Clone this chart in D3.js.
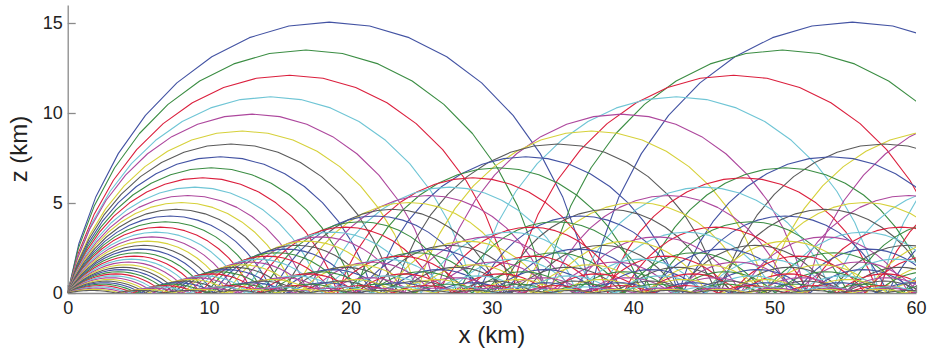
<!DOCTYPE html>
<html>
<head>
<meta charset="utf-8">
<script src="https://cdn.jsdelivr.net/npm/d3@7"></script>
<style>
  body { margin: 0; background: #fff; }
  svg { display: block; }
  .axis text { font-family: "Liberation Sans", Arial, Helvetica, sans-serif; font-size: 18px; fill: #222; }
  .axis path, .axis line { stroke: #8a8a8a; stroke-width: 1.3; }
  .title { font-family: "Liberation Sans", Arial, Helvetica, sans-serif; font-size: 24px; fill: #222; }
</style>
</head>
<body>
<svg id="chart" width="939" height="356"></svg>
<script>
// apex height (km) of each ray
const apexHeights = [
  15.05, 13.5, 12.1, 10.9, 9.94, 9.0, 8.28,
  7.57, 6.96, 6.4, 5.88, 5.42, 5.03, 4.65,
  4.28, 3.96, 3.66, 3.38, 3.12, 2.88, 2.65,
  2.44, 2.24, 2.05, 1.88, 1.72, 1.57, 1.43,
  1.30, 1.18, 1.06, 0.95, 0.85, 0.75, 0.66,
  0.57, 0.49, 0.41, 0.34, 0.27, 0.2, 0.14
];
// horizontal distance (km) between two bounces of each ray
const rayRanges = [
  37.0, 33.7, 31.4, 28.7, 26.1, 24.7, 23.1,
  21.6, 20.3, 19.1, 18.0, 17.0, 16.1, 15.3,
  14.5, 13.8, 13.1, 12.5, 11.9, 11.3, 10.8,
  10.3, 9.85, 9.4, 9.0, 8.6, 8.2, 7.85,
  7.5, 7.15, 6.8, 6.45, 6.1, 5.8, 5.5,
  5.2, 4.9, 4.6, 4.3, 4.0, 3.7, 3.4
];
const lineColors = ['#4353a3', '#3b8d43', '#db1f3d', '#6fc5d5', '#ad479d', '#d6d13a', '#5a5a5a'];
const xTicks = [0, 10, 20, 30, 40, 50, 60];
const yTicks = [0, 5, 10, 15];

const W = 939, H = 356;
const margin = { left: 67.7, right: 23, top: 5, bottom: 63 };

const svg = d3.select('#chart');

const x = d3.scaleLinear().domain([0, 60]).range([margin.left, W - margin.right]);
const y = d3.scaleLinear().domain([0, 16]).range([H - margin.bottom, margin.top]);

svg.append('defs').append('clipPath').attr('id', 'plot')
  .append('rect')
  .attr('x', x(0)).attr('y', y(16) - 5)
  .attr('width', x(60) - x(0)).attr('height', y(0) - y(16) + 5);

// axes (ticks point inward)
svg.append('g')
  .attr('class', 'axis')
  .attr('transform', `translate(0,${y(0)})`)
  .call(d3.axisBottom(x).tickValues(xTicks).tickSizeInner(-8).tickSizeOuter(0).tickPadding(8));

svg.append('g')
  .attr('class', 'axis')
  .attr('transform', `translate(${x(0)},0)`)
  .call(d3.axisLeft(y).tickValues(yTicks).tickSizeInner(-8).tickSizeOuter(0).tickPadding(5));

// every ray bounces along the surface: one circular arc per hop
const SEG = 18;
function hops(h, L) {
  const R = (L * L / 4 + h * h) / (2 * h);
  const zc = h - R;
  const th = Math.asin((L / 2) / R);
  const out = [];
  for (let s = 0; s < 60; s += L) {
    const pts = [];
    for (let j = 0; j <= SEG; j++) {
      const a = -th + 2 * th * j / SEG;
      pts.push([s + L / 2 + R * Math.sin(a), zc + R * Math.cos(a)]);
    }
    out.push(pts);
  }
  return out;
}

const rays = apexHeights.map((h, i) => ({ i, arcs: hops(h, rayRanges[i]) }));

const line = d3.line().x(d => x(d[0])).y(d => y(d[1]));

const g = svg.append('g').attr('clip-path', 'url(#plot)');

g.selectAll('g.ray')
  .data(rays)
  .join('g')
  .attr('class', 'ray')
  .attr('stroke', d => lineColors[d.i % lineColors.length])
  .selectAll('path')
  .data(d => d.arcs)
  .join('path')
  .attr('d', line)
  .attr('fill', 'none')
  .attr('stroke-width', 1.1)
  .attr('stroke-linejoin', 'round');

// axis titles
svg.append('text')
  .attr('class', 'title')
  .attr('text-anchor', 'middle')
  .attr('x', (x(0) + x(60)) / 2)
  .attr('y', 343)
  .text('x (km)');

svg.append('text')
  .attr('class', 'title')
  .attr('text-anchor', 'middle')
  .attr('transform', `translate(27,${y(8)}) rotate(-90)`)
  .text('z (km)');
</script>
</body>
</html>
